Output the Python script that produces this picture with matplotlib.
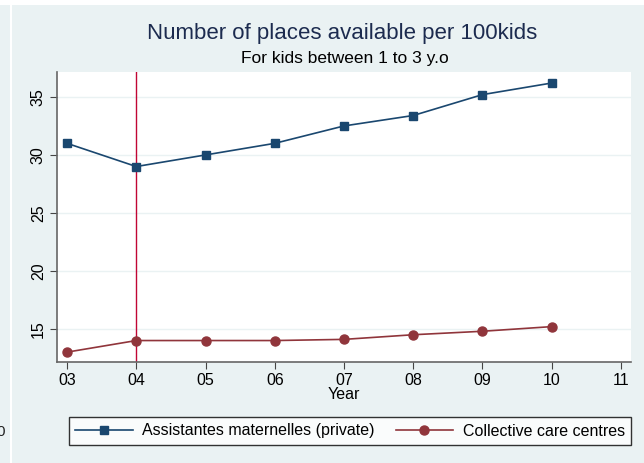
import matplotlib.pyplot as plt
from matplotlib.lines import Line2D
from matplotlib.patches import Rectangle

plt.rcParams['font.family'] = ['Liberation Sans', 'DejaVu Sans']

# places per 100 kids, 2003-2010
years = [3, 4, 5, 6, 7, 8, 9, 10]
year_ticks = [3, 4, 5, 6, 7, 8, 9, 10, 11]
year_labels = ['03', '04', '05', '06', '07', '08', '09', '10', '11']
assistantes = [31.0, 29.0, 30.0, 31.0, 32.5, 33.4, 35.2, 36.2]
collective = [13.0, 14.0, 14.0, 14.0, 14.1, 14.5, 14.8, 15.2]
y_ticks = [15, 20, 25, 30, 35]
reform_year = 4

BG = '#eaf2f3'
NAVY = '#1a476f'
MAROON = '#90353b'

fig = plt.figure(figsize=(6.44, 4.63), dpi=100, facecolor=BG)

# white strip on top and thin white separator on the left
fig.patches.append(Rectangle((0, 1 - 5 / 463), 1, 5 / 463, transform=fig.transFigure,
                             facecolor='white', edgecolor='none', zorder=0))
fig.patches.append(Rectangle((10 / 644, 0), 1.5 / 644, 1 - 5 / 463, transform=fig.transFigure,
                             facecolor='white', edgecolor='none', zorder=0))
fig.text(-4 / 644, 1 - 432 / 463, '0', fontsize=11, va='center', ha='left', color='#222222')

ax = fig.add_axes([57 / 644, 101 / 463, 574 / 644, 290 / 463])
ax.set_facecolor('white')

ax.plot(years, assistantes, color=NAVY, marker='s', markersize=6, lw=1.2,
        label='Assistantes maternelles (private)', zorder=3)
ax.plot(years, collective, color=MAROON, marker='o', markersize=6.5, lw=1.2,
        label='Collective care centres', zorder=3)
ax.axvline(reform_year, color='#c10534', lw=1.0, zorder=2)

ax.set_xlim(2.855, 11.145)
ax.set_ylim(12.15, 37.15)
ax.set_xticks(year_ticks)
ax.set_xticklabels(year_labels)
ax.set_yticks(y_ticks)
ax.set_yticklabels([str(v) for v in y_ticks], rotation=90, va='center')
ax.grid(axis='y', color=BG, lw=1.0)
ax.set_axisbelow(True)

for side in ['top', 'right']:
    ax.spines[side].set_visible(False)
for side in ['left', 'bottom']:
    ax.spines[side].set_color('#666666')
    ax.spines[side].set_linewidth(1.2)
ax.tick_params(axis='both', labelsize=11.5, color='#444444', length=5, width=0.8, pad=3)

ax.set_xlabel('Year', fontsize=11.5, labelpad=-1)

fig.text(342 / 644, 1 - 33 / 463, 'Number of places available per 100kids',
         fontsize=16, color='#1c2b4f', ha='center', va='center')
fig.text(345 / 644, 1 - 59 / 463, 'For kids between 1 to 3 y.o',
         fontsize=12.5, color='black', ha='center', va='center')

handles = [Line2D([], [], color=NAVY, marker='s', markersize=6, lw=1.2),
           Line2D([], [], color=MAROON, marker='o', markersize=6.5, lw=1.2)]
leg = fig.legend(handles, ['Assistantes maternelles (private)', 'Collective care centres'],
                 loc='center', bbox_to_anchor=(350 / 644, 1 - 431 / 463), ncol=2,
                 fontsize=11.5, frameon=True, fancybox=False, handlelength=3.6,
                 columnspacing=1.3, borderpad=0.4, handletextpad=0.6)
leg.get_frame().set_edgecolor('black')
leg.get_frame().set_linewidth(1.0)
leg.get_frame().set_facecolor('white')

fig.savefig('out.png', dpi=100, facecolor=BG)
